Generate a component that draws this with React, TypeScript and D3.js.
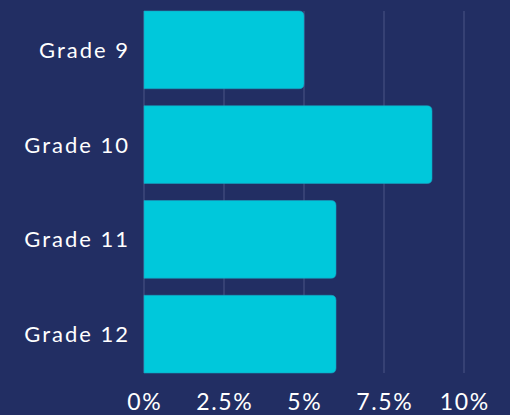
import React from "react";
import * as d3 from "d3";

const categories = ["Grade 9", "Grade 10", "Grade 11", "Grade 12"];
const values = [5, 9, 6, 6];
const tickValues = [0, 2.5, 5, 7.5, 10];
const tickLabels = ["0%", "2.5%", "5%", "7.5%", "10%"];

const W = 510;
const H = 415;
const BG = "#222e63";
const BAR = "#00c8db";
const FONT = "Lato, 'Open Sans', sans-serif";

function barPath(x0: number, x1: number, y0: number, h: number, r: number) {
  const p = d3.path();
  p.moveTo(x0, y0);
  p.lineTo(x1 - r, y0);
  p.quadraticCurveTo(x1, y0, x1, y0 + r);
  p.lineTo(x1, y0 + h - r);
  p.quadraticCurveTo(x1, y0 + h, x1 - r, y0 + h);
  p.lineTo(x0, y0 + h);
  p.closePath();
  return p.toString();
}

export default function App() {
  const x = d3.scaleLinear().domain([0, 10]).range([144, 464]);
  const y = d3
    .scaleBand<string>()
    .domain(categories)
    .range([11, 373])
    .paddingInner(0.18)
    .paddingOuter(0);

  const labelLS = 2;
  const tickLS = 1.6;

  return (
    <svg
      width={W}
      height={H}
      style={{ position: "absolute", left: 0, top: 0, display: "block" }}
    >
      <rect x={0} y={0} width={W} height={H} fill={BG} />
      {tickValues.map((t) => (
        <line
          key={"g" + t}
          x1={x(t)}
          x2={x(t)}
          y1={11}
          y2={373}
          stroke="#4a5486"
          strokeWidth={1}
        />
      ))}
      {categories.map((c, i) => (
        <path
          key={c}
          d={barPath(x(0), x(values[i]), y(c)!, y.bandwidth(), 5)}
          fill={BAR}
          stroke="#1a9fbf"
          strokeWidth={0.6}
        />
      ))}
      {categories.map((c) => (
        <text
          key={"l" + c}
          x={128 + labelLS}
          y={y(c)! + y.bandwidth() / 2}
          dy="0.36em"
          textAnchor="end"
          fill="#ffffff"
          fontFamily={FONT}
          fontSize={22}
          letterSpacing={labelLS}
        >
          {c}
        </text>
      ))}
      {tickValues.map((t, i) => (
        <text
          key={"t" + t}
          x={x(t) + tickLS / 2}
          y={410}
          textAnchor="middle"
          fill="#ffffff"
          fontFamily={FONT}
          fontSize={23}
          letterSpacing={tickLS}
        >
          {tickLabels[i]}
        </text>
      ))}
    </svg>
  );
}
